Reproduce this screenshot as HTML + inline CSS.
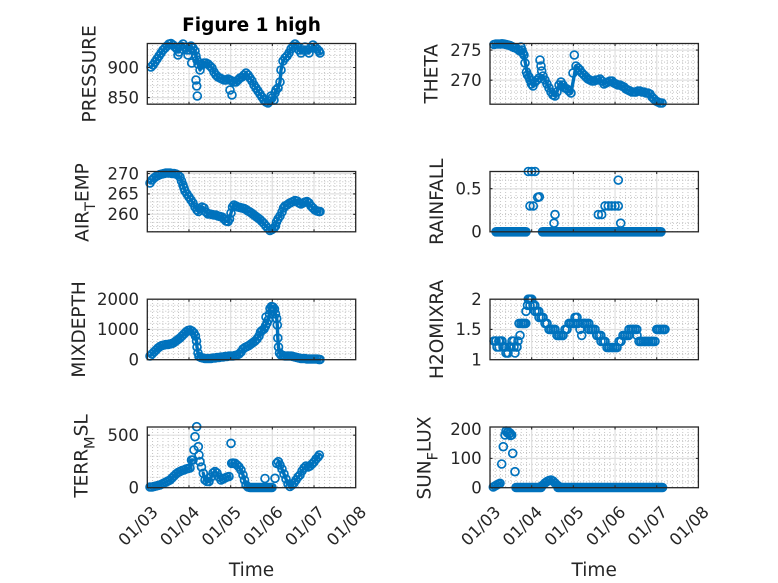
<!DOCTYPE html>
<html><head><meta charset="utf-8"><style>
html,body{margin:0;padding:0;background:#fff;}
svg{display:block;}
.mg{stroke:#e0e0e0;stroke-width:1.2;fill:none}
.mn{stroke:#c4c4c4;stroke-width:1;stroke-dasharray:1 2;fill:none}
.bx{fill:none;stroke:#262626;stroke-width:1.3}
.tk{stroke:#262626;stroke-width:1.1}
.tl{font-family:"DejaVu Sans","Liberation Sans",sans-serif;font-size:16.5px;fill:#262626}
.yl{font-family:"DejaVu Sans","Liberation Sans",sans-serif;font-size:18.5px;fill:#262626}
.ti{font-family:"DejaVu Sans","Liberation Sans",sans-serif;font-size:18.5px;font-weight:bold;fill:#000}
.d{fill:none;stroke:none;marker-start:url(#m);marker-mid:url(#m);marker-end:url(#m)}
.c{fill:none;stroke:#0072BD;stroke-width:3.4;stroke-linejoin:round;stroke-linecap:round}
.z{stroke:#0072BD;stroke-width:9.6;stroke-linecap:round}
</style></head><body>
<svg width="778" height="583" viewBox="0 0 778 583" xmlns="http://www.w3.org/2000/svg">
<defs>
<marker id="m" markerWidth="12" markerHeight="12" refX="6" refY="6" markerUnits="userSpaceOnUse" overflow="visible"><circle cx="6" cy="6" r="3.95" fill="none" stroke="#0072BD" stroke-width="1.7"/></marker>
<pattern id="pvL" x="146.8" y="0" width="5.21" height="3" patternUnits="userSpaceOnUse"><rect width="1" height="1" fill="#c4c4c4"/></pattern>
<pattern id="pvR" x="489.5" y="0" width="5.21" height="3" patternUnits="userSpaceOnUse"><rect width="1" height="1" fill="#c4c4c4"/></pattern>
</defs>
<rect width="778" height="583" fill="#fff"/>

<!-- vertical minor grid -->
<rect x="147.3" y="43.5" width="208.4" height="60.7" fill="url(#pvL)"/>
<rect x="147.3" y="171.5" width="208.4" height="60.3" fill="url(#pvL)"/>
<rect x="147.3" y="299.2" width="208.4" height="60.5" fill="url(#pvL)"/>
<rect x="147.3" y="427" width="208.4" height="60.7" fill="url(#pvL)"/>
<rect x="490" y="43.5" width="208.4" height="60.7" fill="url(#pvR)"/>
<rect x="490" y="171.5" width="208.4" height="60.3" fill="url(#pvR)"/>
<rect x="490" y="299.2" width="208.4" height="60.5" fill="url(#pvR)"/>
<rect x="490" y="427" width="208.4" height="60.7" fill="url(#pvR)"/>

<!-- horizontal minor grid -->
<g class="mn">
<path d="M147.3,103.6H355.7M147.3,91.58H355.7M147.3,85.57H355.7M147.3,79.56H355.7M147.3,73.55H355.7M147.3,61.53H355.7M147.3,55.52H355.7M147.3,49.51H355.7"/>
<path d="M490,98.19H698.4M490,92.18H698.4M490,86.17H698.4M490,74.15H698.4M490,68.14H698.4M490,62.13H698.4M490,56.12H698.4M490,44.1H698.4"/>
<path d="M147.3,226.5H355.7M147.3,222.43H355.7M147.3,218.36H355.7M147.3,210.21H355.7M147.3,206.13H355.7M147.3,202.06H355.7M147.3,197.98H355.7M147.3,189.84H355.7M147.3,185.76H355.7M147.3,181.69H355.7M147.3,177.61H355.7"/>
<path d="M490,223.19H698.4M490,214.57H698.4M490,205.96H698.4M490,197.34H698.4M490,180.12H698.4"/>
<path d="M147.3,353.65H355.7M147.3,347.6H355.7M147.3,341.55H355.7M147.3,335.5H355.7M147.3,323.4H355.7M147.3,317.35H355.7M147.3,311.3H355.7M147.3,305.25H355.7"/>
<path d="M490,353.65H698.4M490,347.6H698.4M490,341.55H698.4M490,335.5H698.4M490,323.4H698.4M490,317.35H698.4M490,311.3H698.4M490,305.25H698.4"/>
<path d="M147.3,477.2H355.7M147.3,466.7H355.7M147.3,456.19H355.7M147.3,445.69H355.7"/>
<path d="M490,481.84H698.4M490,475.97H698.4M490,470.11H698.4M490,464.24H698.4M490,452.52H698.4M490,446.65H698.4M490,440.79H698.4M490,434.92H698.4"/>
</g>

<!-- major grid -->
<g class="mg">
<path d="M188.98,43.5V104.2M230.66,43.5V104.2M272.34,43.5V104.2M314.02,43.5V104.2M147.3,97.6H355.7M147.3,67.5H355.7"/>
<path d="M531.68,43.5V104.2M573.36,43.5V104.2M615.04,43.5V104.2M656.72,43.5V104.2M490,80.16H698.4M490,50.11H698.4"/>
<path d="M188.98,171.5V231.8M230.66,171.5V231.8M272.34,171.5V231.8M314.02,171.5V231.8M147.3,214.28H355.7M147.3,193.91H355.7M147.3,173.54H355.7"/>
<path d="M531.68,171.5V231.8M573.36,171.5V231.8M615.04,171.5V231.8M656.72,171.5V231.8M490,188.73H698.4"/>
<path d="M188.98,299.2V359.7M230.66,299.2V359.7M272.34,299.2V359.7M314.02,299.2V359.7M147.3,329.45H355.7"/>
<path d="M531.68,299.2V359.7M573.36,299.2V359.7M615.04,299.2V359.7M656.72,299.2V359.7M490,329.45H698.4"/>
<path d="M188.98,427V487.7M230.66,427V487.7M272.34,427V487.7M314.02,427V487.7M147.3,435.19H355.7"/>
<path d="M531.68,427V487.7M573.36,427V487.7M615.04,427V487.7M656.72,427V487.7M490,458.38H698.4"/>
</g>

<!-- DATA -->
<!-- PRESSURE -->
<polyline class="c" points="151,67 153,65 155,62 157,59 159,56 161,53 163,50 165,48 167,46 169,44 171,43.5 173,45 175,47 177,49 179,52 181,46 183,44 185,47 187,50 190,50 191,46 193,48 195,51 196,56 197,60 198,64 200,70 202,65 204,63 206,63 208,64 210,66 212,68 214,72 216,75 218,77 220,78 222,79 224,80 226,80 228,79 230,80 232,81 234,82 236,82 238,80 240,78 242,77 244,75 246,73 248,75 250,78 252,81 254,85 256,88 258,91 260,94 262,97 264,100 266,102 268,103 270,101 272,98 274,100 276,90 278,88 280,82 281,70 283,61 285,58 287,56 289,53 291,49 293,46 295,44 297,46 299,50 301,53 303,50 305,47 307,50 309,53 311,48 313,45 315,47 317,49 319,51 320,53"/>
<polyline class="d" points="151,67 153,65 155,62 157,59 159,56 161,53 163,50 165,48 167,46 169,44 171,43.5 173,45 175,47 177,49 178,55 179,52 181,46 183,44 185,47 187,50 188,55 190,50 191,46 191.7,63 193,48 195,51 196,56 197,60 198,64 196,80 196.7,86 197.3,96 200,70 202,65 204,63 206,63 208,64 210,66 212,68 214,72 216,75 218,77 220,78 222,79 224,80 226,80 228,79 230,80 230,90 232,95 232,81 234,82 236,82 238,80 240,78 242,77 244,75 246,73 248,75 250,78 252,81 254,85 256,88 258,91 260,94 262,97 264,100 266,102 268,103 270,101 271,96 272,98 274,100 275,93 276,90 278,88 280,82 281,70 283,61 285,58 287,56 289,53 291,49 293,46 295,44 297,46 299,50 301,53 303,50 305,47 307,50 309,53 311,48 313,45 315,47 317,49 319,51 320,53"/>
<!-- THETA -->
<polyline class="c" points="494,44.5 496,44 498,44 500,44 502,43.8 504,44 506,44.5 508,45 510,45.5 512,46.5 514,47.5 516,48 518,49.5 520,51 522,50 523,53 524,55 527.5,75 529,77 530,80 531.5,84 533,86 535,82 537,80 539,78 543,76 545,80 547,84 549,88 551,92 553,95 555,96 557,92 559,85 561,82 563,85 565,88 567,89 569,91 571,93 576,66 578,68 580,70 582,73 584,75 586,77 588,79 590,80 592,81 594,81 596,80 598,80 600,79 602,81 604,84 606,83 608,82 610,81 612,81 614,83 616,84 618,85 620,85 622,86 624,87 626,89 628,90 630,91 632,92 634,92 636,92 638,91 640,91 642,92 644,92 646,93 648,93 650,94 652,97 654,99 656,101 658,102 660,103 662,103"/>
<polyline class="d" points="494,44.5 496,44 498,44 500,44 502,43.8 504,44 506,44.5 508,45 510,45.5 512,46.5 514,47.5 516,48 518,49.5 520,51 522,50 523,53 521,47 524,55 525,63 526.5,72 527.5,75 529,77 530,80 531.5,84 533,86 535,82 537,80 539,78 540,60 541,66 541.7,71 543,76 545,80 547,84 549,88 551,92 553,95 555,96 557,92 559,85 561,82 563,85 565,88 567,89 569,91 571,93 573,73 574.3,55 576,66 578,68 580,70 582,73 584,75 586,77 588,79 590,80 592,81 594,81 596,80 598,80 600,79 602,81 604,84 606,83 608,82 610,81 612,81 614,83 616,84 618,85 620,85 622,86 624,87 626,89 628,90 630,91 632,92 634,92 636,92 638,91 640,91 642,92 644,92 646,93 648,93 650,94 652,97 654,99 656,101 658,102 660,103 662,103"/>
<!-- AIR_TEMP -->
<polyline class="c" points="150,183 152,180 154,178 156,176.5 158,175.5 160,174.5 162,174 164,173.5 166,173 168,173 170,173 172,173.5 174,173.5 176,174 178,175 180,177 181.5,181 183,185 184,188 185,191 187,194 189,197 191,200 193,203 195,207 197,210 198.5,211.5 200,209 202,207 204,208 206,212 208,214 210,214 212,214.5 214,215 216,215 218,216 220,216.5 222,217 224,219 226,221 228,221.5 229.5,219 231,213 232.5,207 234,205 236,206 238,207 240,207.5 242,208 244,208.5 246,209.5 248,211 250,212 252,213.5 254,215 256,216.5 258,218 260,219.5 262,221.5 264,223.5 266,226 268,228.5 270,230.5 272,229.5 274,228 275.5,226 276.5,222 278,219 280,216 282,212 283.5,208 285,206 287,205 289,203.5 291,202.5 293,201.5 295,200.5 297,201 299,203 301,204 303,203 305,202 307,201.5 309,203 311,206 313,208 315,210 317,211 319,211.5 320,211.5"/>
<polyline class="d" points="150,183 152,180 154,178 156,176.5 158,175.5 160,174.5 162,174 164,173.5 166,173 168,173 170,173 172,173.5 174,173.5 176,174 178,175 180,177 181.5,181 183,185 184,188 185,191 187,194 189,197 191,200 193,203 195,207 197,210 198.5,211.5 200,209 202,207 204,208 206,212 208,214 210,214 212,214.5 214,215 216,215 218,216 220,216.5 222,217 224,219 226,221 228,221.5 229.5,219 231,213 232.5,207 234,205 236,206 238,207 240,207.5 242,208 244,208.5 246,209.5 248,211 250,212 252,213.5 254,215 256,216.5 258,218 260,219.5 262,221.5 264,223.5 266,226 268,228.5 270,230.5 272,229.5 274,228 275.5,226 276.5,222 278,219 280,216 282,212 283.5,208 285,206 287,205 289,203.5 291,202.5 293,201.5 295,200.5 297,201 299,203 301,204 303,203 305,202 307,201.5 309,203 311,206 313,208 315,210 317,211 319,211.5 320,211.5"/>
<!-- RAINFALL -->
<line class="z" x1="496" y1="231.8" x2="526" y2="231.8"/>
<line class="z" x1="542.5" y1="231.8" x2="661" y2="231.8"/>
<polyline class="d" points="528.3,171.5 531.7,171.5 535,171.5 530,205.96 533.3,205.96 537.7,197.34 539.3,196.8 555,214.57 554,223.19 598.3,214.57 601.7,214.57 605,205.96 608.3,205.96 611.7,205.96 615,205.96 618.3,205.96 618.3,180.12 620.7,223.19"/>
<!-- MIXDEPTH -->
<polyline class="c" points="150,356 152,354 154,352 156,350 158,348 160,346.5 162,345.5 164,345 166,344.5 168,344.5 170,344 172,343.5 174,342.5 176,341 178,339.5 180,338 182,336 184,334 186,332 188,330.5 190,330 192,331 194,333 195.5,336 196.5,341 197,347 198,353 199,356.5 201,357.5 203,358 205,358.5 207,358.5 209,358.5 211,358.5 213,358 215,358 217,357.5 219,357.5 221,357 223,357 225,356.5 227,356.5 229,356 231,356 233,356 235,355.5 237,355 239,354 241,352 243,349 245,347.5 247,346.5 249,345.5 251,344 253,342.5 255,341 257,339 259,336 260.5,332 262,330.5 264,329 265.5,326 267,323 268.3,320 269.5,314 270,308.5 271.5,306.5 273,307 274.5,309 275.5,314 276.7,318.5 277.3,325 277.8,338 278.5,347 279.5,353 281,355 283,355.5 285,356 287,356 289,356 291,356 293,356.5 295,357 297,357.5 299,358 301,358.5 303,358.5 305,358.5 307,359 309,359 311,359 313,359 315,359 317,359 319,359.5 320,359.5"/>
<polyline class="d" points="150,356 152,354 154,352 156,350 158,348 160,346.5 162,345.5 164,345 166,344.5 168,344.5 170,344 172,343.5 174,342.5 176,341 178,339.5 180,338 182,336 184,334 186,332 188,330.5 190,330 192,331 194,333 195.5,336 196.5,341 197,347 198,353 199,356.5 201,357.5 203,358 205,358.5 207,358.5 209,358.5 211,358.5 213,358 215,358 217,357.5 219,357.5 221,357 223,357 225,356.5 227,356.5 229,356 231,356 233,356 235,355.5 237,355 239,354 241,352 243,349 245,347.5 247,346.5 249,345.5 251,344 253,342.5 255,341 257,339 259,336 260.5,332 262,330.5 264,329 265.5,326 266,317 267,323 268.3,320 269.5,314 270,308.5 271.5,306.5 273,307 274.5,309 275.5,314 276.7,318.5 277.3,325 277.8,338 278.5,347 279.5,353 281,355 283,355.5 285,356 287,356 289,356 291,356 293,356.5 295,357 297,357.5 299,358 301,358.5 303,358.5 305,358.5 307,359 309,359 311,359 313,359 315,359 317,359 319,359.5 320,359.5"/>
<!-- H2OMIXRA -->
<polyline class="d" points="494,341 496,341 497,347 499,347 500,341 502,341 503,347 505,347 506,353 508,353 509,347 511,347 512,341 514,347 515,353 517,347 518,341 519,323.4 520,335.4 521,323.4 523,323.4 524.5,323.4 526,311.3 527.5,305.3 528.3,299.2 530,299.2 531.7,299.2 530,305.3 533,305.3 535,311.3 537,311.3 539,317.4 541,317.4 543,317.4 545,323.4 547,323.4 549,329.4 551,329.4 553,329.4 555,329.4 557,335.4 559,335.4 561,335.4 563,335.4 565,329.4 567,329.4 569,323.4 571,323.4 573,323.4 575,317.4 577,317.4 578,323.4 580,329.4 581.7,335.4 583,323.4 585,323.4 587,323.4 589,329.4 591,329.4 593,329.4 595,329.4 597,335.4 599,335.4 601,341.4 603,341.4 605,341.4 607,347.5 609,347.5 611,347.5 613,347.5 615,347.5 617,347.5 619,341.4 621,341.4 623,335.4 625,335.4 627,335.4 629,329.4 631,329.4 633,329.4 635,329.4 637,335.4 639,341.4 641,341.4 643,341.4 645,341.4 647,341.4 649,341.4 651,341.4 653,341.4 655,341.4 656.7,329.4 658,329.4 660,329.4 662,329.4 664,329.4 665,329.4"/>
<polyline class="d" transform="translate(0.8,0)" points="495,341 498,341 501,341 504,347 507,353 510,347 513,341 516,347 522,323.4 525,323.4 529,299.2 534,305.3 538,311.3 542,317.4 546,323.4 550,329.4 554,329.4 558,335.4 562,335.4 566,329.4 570,323.4 574,323.4 576,317.4 584,323.4 588,323.4 592,329.4 596,335.4 600,335.4 604,341.4 608,347.5 612,347.5 616,347.5 620,341.4 624,335.4 628,335.4 632,329.4 636,329.4 640,341.4 644,341.4 648,341.4 652,341.4 659,329.4 663,329.4"/>
<!-- TERR_MSL -->
<line class="z" x1="250" y1="487.5" x2="272" y2="487.5"/>
<polyline class="c" points="150,487 152,487 154,486.5 156,486 158,485.5 160,485 162,484 164,483 166,482 168,481 170,480 172,478 174,476 176,474 178,472.5 180,471.5 182,470.5 184,470 186,469 188,468.5 190,468 191.5,460 193,460"/>
<polyline class="c" points="203.3,473.3 205,480 207,481.5 209,481.5 211,477 213,473 215,471.5 217,473 219,477 221,480 223,479 225,478 227,477 229,476.5"/>
<polyline class="c" points="231.7,463.3 233,463 235,463.3 237,465 239,467 241,470 243,475 244.5,480 246,485 248,487"/>
<polyline class="c" points="278.3,461.7 280,465 282,469 284,474 286,479 288,484 290,486.5 292,485 294,483 296,480 298,477 300,475 302,471 304,468 306,466 308,467 310,466 312,464 314,462 316,459 318,457 319.3,455"/>
<polyline class="d" points="150,487 152,487 154,486.5 156,486 158,485.5 160,485 162,484 164,483 166,482 168,481 170,480 172,478 174,476 176,474 178,472.5 180,471.5 182,470.5 184,470 186,469 188,468.5 190,468 191.5,460 193,460 194,450 195,436.7 196.7,426.7 198.3,446.7 199,455 200,461.7 201.5,467 203.3,473.3 205,480 207,481.5 209,481.5 211,477 213,473 215,471.5 217,473 219,477 221,480 223,479 225,478 227,477 229,476.5 231,443.3 231.7,463.3 233,463 235,463.3 237,465 239,467 241,470 243,475 244.5,480 246,485 248,487 265,478.5 275,478.3 276.7,463.3 278.3,461.7 280,465 282,469 284,474 286,479 288,484 290,486.5 292,485 294,483 296,480 298,477 300,475 302,471 304,468 306,466 308,467 310,466 312,464 314,462 316,459 318,457 319.3,455"/>
<!-- SUN_FLUX -->
<line class="z" x1="516" y1="487.5" x2="541" y2="487.5"/>
<line class="z" x1="558" y1="487.5" x2="662.5" y2="487.5"/>
<polyline class="c" points="493.3,487 495,486 496.7,485 498.5,484 500,483.3"/>
<polyline class="c" points="541,486.5 543,485 545,483 547,481.5 549,480.5 551,480 553,481 555,483 557,485 559,486.5"/>
<polyline class="d" points="493.3,487 495,486 496.7,485 498.5,484 500,483.3 501.7,464 503.3,446.7 505,435 506,431 507.3,432.7 508,431.5 509,434 510,433 510.5,435.5 511.7,435 512.7,453.3 515,471.7 541,486.5 543,485 545,483 547,481.5 549,480.5 551,480 553,481 555,483 557,485 559,486.5"/>

<!-- AXES BOXES -->
<g class="bx">
<rect x="147.3" y="43.5" width="208.4" height="60.7"/>
<rect x="490" y="43.5" width="208.4" height="60.7"/>
<rect x="147.3" y="171.5" width="208.4" height="60.3"/>
<rect x="490" y="171.5" width="208.4" height="60.3"/>
<rect x="147.3" y="299.2" width="208.4" height="60.5"/>
<rect x="490" y="299.2" width="208.4" height="60.5"/>
<rect x="147.3" y="427" width="208.4" height="60.7"/>
<rect x="490" y="427" width="208.4" height="60.7"/>
</g>
<!-- ticks -->
<g class="tk">
<path d="M188.98,43.5v2.5M230.66,43.5v2.5M272.34,43.5v2.5M314.02,43.5v2.5M188.98,104.2v-2.5M230.66,104.2v-2.5M272.34,104.2v-2.5M314.02,104.2v-2.5M147.3,97.6h2.5M147.3,67.5h2.5M355.7,97.6h-2.5M355.7,67.5h-2.5"/>
<path d="M531.68,43.5v2.5M573.36,43.5v2.5M615.04,43.5v2.5M656.72,43.5v2.5M531.68,104.2v-2.5M573.36,104.2v-2.5M615.04,104.2v-2.5M656.72,104.2v-2.5M490,80.16h2.5M490,50.11h2.5M698.4,80.16h-2.5M698.4,50.11h-2.5"/>
<path d="M188.98,171.5v2.5M230.66,171.5v2.5M272.34,171.5v2.5M314.02,171.5v2.5M188.98,231.8v-2.5M230.66,231.8v-2.5M272.34,231.8v-2.5M314.02,231.8v-2.5M147.3,214.28h2.5M147.3,193.91h2.5M147.3,173.54h2.5M355.7,214.28h-2.5M355.7,193.91h-2.5M355.7,173.54h-2.5"/>
<path d="M531.68,171.5v2.5M573.36,171.5v2.5M615.04,171.5v2.5M656.72,171.5v2.5M531.68,231.8v-2.5M573.36,231.8v-2.5M615.04,231.8v-2.5M656.72,231.8v-2.5M490,188.73h2.5M698.4,188.73h-2.5"/>
<path d="M188.98,299.2v2.5M230.66,299.2v2.5M272.34,299.2v2.5M314.02,299.2v2.5M188.98,359.7v-2.5M230.66,359.7v-2.5M272.34,359.7v-2.5M314.02,359.7v-2.5M147.3,329.45h2.5M355.7,329.45h-2.5"/>
<path d="M531.68,299.2v2.5M573.36,299.2v2.5M615.04,299.2v2.5M656.72,299.2v2.5M531.68,359.7v-2.5M573.36,359.7v-2.5M615.04,359.7v-2.5M656.72,359.7v-2.5M490,329.45h2.5M698.4,329.45h-2.5"/>
<path d="M188.98,427v2.5M230.66,427v2.5M272.34,427v2.5M314.02,427v2.5M188.98,487.7v-2.5M230.66,487.7v-2.5M272.34,487.7v-2.5M314.02,487.7v-2.5M147.3,435.19h2.5M355.7,435.19h-2.5"/>
<path d="M531.68,427v2.5M573.36,427v2.5M615.04,427v2.5M656.72,427v2.5M531.68,487.7v-2.5M573.36,487.7v-2.5M615.04,487.7v-2.5M656.72,487.7v-2.5M490,458.38h2.5M698.4,458.38h-2.5"/>
</g>

<!-- Y tick labels -->
<g class="tl" text-anchor="end">
<text x="139" y="97.6" dy="0.35em">850</text>
<text x="139" y="67.5" dy="0.35em">900</text>
<text x="481.7" y="80.16" dy="0.35em">270</text>
<text x="481.7" y="50.11" dy="0.35em">275</text>
<text x="139" y="214.28" dy="0.35em">260</text>
<text x="139" y="193.91" dy="0.35em">265</text>
<text x="139" y="173.54" dy="0.35em">270</text>
<text x="481.7" y="231.8" dy="0.35em">0</text>
<text x="481.7" y="188.73" dy="0.35em">0.5</text>
<text x="139" y="359.7" dy="0.35em">0</text>
<text x="139" y="329.45" dy="0.35em">1000</text>
<text x="139" y="299.2" dy="0.35em">2000</text>
<text x="481.7" y="359.7" dy="0.35em">1</text>
<text x="481.7" y="329.45" dy="0.35em">1.5</text>
<text x="481.7" y="299.2" dy="0.35em">2</text>
<text x="139" y="487.7" dy="0.35em">0</text>
<text x="139" y="435.19" dy="0.35em">500</text>
<text x="481.7" y="487.7" dy="0.35em">0</text>
<text x="481.7" y="458.38" dy="0.35em">100</text>
<text x="481.7" y="429.06" dy="0.35em">200</text>
</g>

<!-- X tick labels -->
<g class="tl" text-anchor="end">
<text transform="translate(154.8,509) rotate(-45)" dy="0.35em">01/03</text>
<text transform="translate(196.5,509) rotate(-45)" dy="0.35em">01/04</text>
<text transform="translate(238.2,509) rotate(-45)" dy="0.35em">01/05</text>
<text transform="translate(279.8,509) rotate(-45)" dy="0.35em">01/06</text>
<text transform="translate(321.5,509) rotate(-45)" dy="0.35em">01/07</text>
<text transform="translate(363.2,509) rotate(-45)" dy="0.35em">01/08</text>
<text transform="translate(497.5,509) rotate(-45)" dy="0.35em">01/03</text>
<text transform="translate(539.2,509) rotate(-45)" dy="0.35em">01/04</text>
<text transform="translate(580.9,509) rotate(-45)" dy="0.35em">01/05</text>
<text transform="translate(622.5,509) rotate(-45)" dy="0.35em">01/06</text>
<text transform="translate(664.2,509) rotate(-45)" dy="0.35em">01/07</text>
<text transform="translate(705.9,509) rotate(-45)" dy="0.35em">01/08</text>
</g>

<!-- axis labels -->
<g class="yl" text-anchor="middle">
<text x="251.5" y="576">Time</text>
<text x="594.2" y="576">Time</text>
<text transform="translate(95.5,73.8) rotate(-90)">PRESSURE</text>
<text transform="translate(437.5,73.8) rotate(-90)">THETA</text>
<text transform="translate(88.5,202.5) rotate(-90)">AIR<tspan dy="6.5" font-size="14.5">T</tspan><tspan dy="-6.5">EMP</tspan></text>
<text transform="translate(442.8,201.7) rotate(-90)">RAINFALL</text>
<text transform="translate(85,329.4) rotate(-90)">MIXDEPTH</text>
<text transform="translate(443,329.4) rotate(-90)">H2OMIXRA</text>
<text transform="translate(87.5,456) rotate(-90)">TERR<tspan dy="7" font-size="14.5">M</tspan><tspan dy="-7">SL</tspan></text>
<text transform="translate(430.5,458) rotate(-90)">SUN<tspan dy="7" font-size="14.5">F</tspan><tspan dy="-7">LUX</tspan></text>
</g>

<text class="ti" x="251.5" y="31" text-anchor="middle">Figure 1 high</text>
</svg>
</body></html>
